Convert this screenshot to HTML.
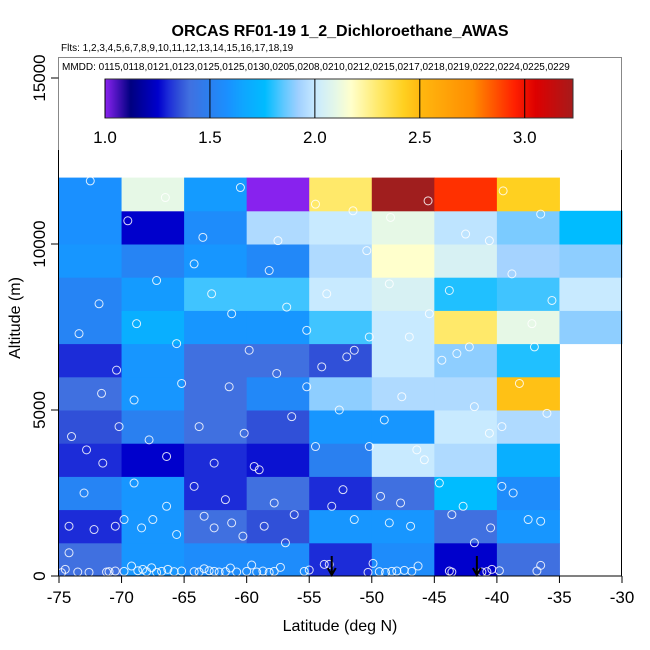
<!DOCTYPE html>
<html><head><meta charset="utf-8"><style>
body{margin:0;background:#fff;}
svg{display:block;font-family:"Liberation Sans",sans-serif;}
</style></head><body>
<svg id="chart" width="650" height="650" viewBox="0 0 650 650" xmlns="http://www.w3.org/2000/svg">
<rect width="650" height="650" fill="#fff"/>
<text x="340" y="36" text-anchor="middle" font-size="16" font-weight="bold">ORCAS RF01-19 1_2_Dichloroethane_AWAS</text>
<text x="61" y="51" font-size="10">Flts: 1,2,3,4,5,6,7,8,9,10,11,12,13,14,15,16,17,18,19</text>
<g id="cells"></g>
<g id="points"></g>
<g id="arrows"></g>
<rect x="58.5" y="57.5" width="563" height="518.5" fill="none" stroke="#000" stroke-width="1"/>
<g id="legend">
<rect x="58.5" y="57.5" width="563" height="92" fill="#fff" stroke="none"/>
<path d="M58.5,150 L58.5,57.5 L621.5,57.5 L621.5,150" fill="none" stroke="#888" stroke-width="1"/>
<text x="62" y="70" font-size="10">MMDD: 0115,0118,0121,0123,0125,0125,0130,0205,0208,0210,0212,0215,0217,0218,0219,0222,0224,0225,0229</text>
</g>
<g id="colorbar"></g>
<g id="axes"></g>
<text x="340" y="631" text-anchor="middle" font-size="16">Latitude (deg N)</text>
<text transform="translate(20,318) rotate(-90)" text-anchor="middle" font-size="16">Altitude (m)</text>
</svg>
<script>
const NS="http://www.w3.org/2000/svg";
// data
const latEdges=[-75,-70,-65,-60,-55,-50,-45,-40,-35,-30];
const altBins=[0,1000,2000,3000,4000,5000,6000,7000,8000,9000,10000,11000];
// values per altitude bin (bottom to top), per latitude column; null = empty
const row0=[1.40,1.60,1.56,1.56,1.30,1.56,1.25,1.40,null];
const row1=[1.30,1.60,1.40,1.35,1.60,1.60,1.40,1.60,null];
const row2=[1.52,1.60,1.30,1.40,1.30,1.40,1.76,1.56,null];
const row3=[1.30,1.25,1.30,1.27,1.50,2.00,1.95,1.70,null];
const row4=[1.35,1.50,1.40,1.35,1.60,1.60,2.00,1.95,null];
const row5=[1.40,1.60,1.40,1.54,1.90,1.95,1.95,2.47,null];
const row6=[1.30,1.60,1.40,1.40,1.35,2.00,1.90,1.79,null];
const row7=[1.52,1.70,1.60,1.60,1.82,2.00,2.30,2.10,1.90];
const row8=[1.52,1.62,1.82,1.82,2.00,2.05,1.79,1.82,2.00];
const row9=[1.60,1.52,1.60,1.54,1.95,2.17,2.05,1.93,1.90];
const row10=[1.58,1.25,1.56,1.95,2.00,2.10,1.98,1.88,1.76];
const row11=[1.58,2.10,1.62,1.00,2.30,3.25,2.92,2.42,null];
const cellRows=[row0,row1,row2,row3,row4,row5,row6,row7,row8,row9,row10,row11];
const xTicks=[-75,-70,-65,-60,-55,-50,-45,-40,-35,-30];
const yTicks=[0,5000,10000,15000];
const cbTicks=[1.0,1.5,2.0,2.5,3.0];
const cbMin=1.0, cbMax=3.23;
const ptLat=[-74.8,-74.5,-74.2,-73.5,-72.6,-71.2,-71,-70.5,-69.8,-69.2,-68.7,-68.3,-68,-67.6,-67.2,-66.8,-66.3,-65.8,-65.2,-64.2,-63.8,-63.4,-63,-62.6,-62.2,-61.7,-61.3,-60.8,-60,-59.6,-59.2,-58.7,-58.2,-57.8,-57.3,-55.4,-55,-53.8,-53.4,-50.3,-49.9,-49.4,-48.9,-48.4,-48,-47.4,-46.8,-46.3,-43.8,-43.6,-41.2,-40.8,-40.4,-39.8,-36.8,-36.5,
-74.2,-73,-72.2,-71.5,-70.5,-69.8,-69,-68.4,-67.5,-66.4,-65.6,-64.2,-63.4,-62.6,-61.7,-61.2,-60.3,-59.4,-58.6,-57.8,-56.9,-56.2,-54.5,-53.2,-52.3,-51.4,-50.2,-49.3,-48.6,-47.7,-46.9,-45.8,-44.6,-43.6,-42.7,-41.8,-40.5,-39.6,-38.7,-37.5,-36.5,
-74,-72.8,-71.6,-70.2,-69,-67.8,-66.4,-65.2,-63.8,-62.6,-61.4,-60.2,-59,-57.6,-56.4,-55.2,-54,-52.6,-51.4,-50.2,-49,-47.6,-46.4,-44.4,-43.2,-41.8,-40.6,-39.6,-38.2,-37,-36,
-73.4,-71.8,-70.4,-68.8,-67.2,-65.6,-64.2,-62.8,-61.2,-59.8,-58.2,-56.8,-55.2,-53.6,-52,-50.4,-48.6,-47,-45.4,-43.8,-42.2,-40.6,-38.8,-37.2,-35.6,
-72.5,-69.5,-66.5,-63.5,-60.5,-57.5,-54.5,-51.5,-48.5,-45.5,-42.5,-39.5,-36.5];
const ptAlt=[100,200,700,120,110,120,130,150,140,300,160,200,130,250,110,140,200,130,150,130,120,220,160,140,120,130,240,120,140,330,120,150,110,140,260,140,180,350,350,110,380,130,110,140,150,170,140,300,150,120,120,130,200,160,150,320,
1500,2500,1400,3400,1500,1700,2800,1450,1700,2100,1250,2700,1800,1450,2300,1600,1200,3300,1500,2200,1000,1850,3900,2100,2600,1700,3900,2400,1600,2200,1500,3500,2800,1850,2100,1000,1450,2700,2500,1700,1650,
4200,3800,5500,4500,5300,4100,3600,5800,4500,3400,5700,4300,3200,6100,4800,5700,6300,5000,6800,7200,4700,5400,3800,6500,6700,5100,4300,4500,5800,6900,4900,
7300,8200,6200,7600,8900,7000,9400,8500,7900,6800,9200,8100,7400,8500,6600,9800,8800,7200,7900,8600,6900,10100,9100,7600,8300,
11900,10700,11400,10200,11700,10100,11200,11000,10800,11300,10300,11600,10900];
const arrowLat=[-53.2,-41.6];
// scales
const X0=59,X1=622,Y0=576,PXM=0.0332;
function xs(v){return X0+(v+75)*(X1-X0)/45;}
function ys(a){return Y0-a*PXM;}
const stops=[[1.00,"#8822ee"],[1.12,"#000080"],[1.25,"#0000cc"],[1.30,"#1c2cd8"],[1.35,"#3050d8"],[1.40,"#4070e0"],[1.50,"#2a80f0"],[1.58,"#1a90ff"],[1.65,"#10a4ff"],[1.76,"#00bcff"],[1.85,"#60c8ff"],[1.92,"#a0d0ff"],[2.0,"#c8eaff"],[2.1,"#e6f8e6"],[2.17,"#ffffcc"],[2.3,"#ffe96a"],[2.42,"#ffd020"],[2.5,"#ffb80f"],[2.75,"#ff8c00"],[2.95,"#ff2000"],[3.05,"#dd0000"],[3.25,"#a01e1e"]];
function hex(h){return [1,3,5].map(i=>parseInt(h.substr(i,2),16));}
function cmap(v){
  if(v<=stops[0][0])return stops[0][1];
  for(let i=1;i<stops.length;i++){if(v<=stops[i][0]){const a=stops[i-1],b=stops[i];const t=(v-a[0])/(b[0]-a[0]);const ca=hex(a[1]),cb=hex(b[1]);return "rgb("+ca.map((c,k)=>Math.round(c+(cb[k]-c)*t)).join(",")+")";}}
  return stops[stops.length-1][1];
}
function mk(tag,attrs,parent){const e=document.createElementNS(NS,tag);for(const k in attrs)e.setAttribute(k,attrs[k]);parent.appendChild(e);return e;}
// cells
const gC=document.getElementById("cells");
cellRows.forEach((row,r)=>{row.forEach((v,c)=>{if(v===null)return;
  const x=xs(latEdges[c]),x2=xs(latEdges[c+1]),y=ys(altBins[r]+1000),y2=ys(altBins[r]);
  const e=mk("rect",{x:x,y:y,width:x2-x+0.5,height:y2-y+0.5,fill:cmap(v)},gC);
  
  
});});
// points
const gP=document.getElementById("points");
ptLat.forEach((la,i)=>{
  const e=mk("circle",{cx:xs(la),cy:ys(ptAlt[i]),r:4,fill:"none",stroke:"#fff","stroke-width":1,"stroke-opacity":0.85},gP);
  
  
});
// arrows
const gA=document.getElementById("arrows");
arrowLat.forEach(la=>{
  const x=xs(la);
  const e=mk("path",{d:`M${x},556 L${x},575 M${x-4},568 L${x},575 L${x+4},568`,stroke:"#000","stroke-width":2,fill:"none"},gA);
  
  
});
// colorbar
const gB=document.getElementById("colorbar");
const CB0=105,CB1=573,CBT=79,CBB=118;
function cbx(v){return CB0+(v-cbMin)*(CB1-CB0)/(cbMax-cbMin);}
for(let px=CB0;px<CB1;px++){const v=cbMin+(px-CB0)*(cbMax-cbMin)/(CB1-CB0);mk("rect",{x:px,y:CBT,width:1.2,height:CBB-CBT,fill:cmap(v)},gB);}
mk("rect",{x:CB0,y:CBT,width:CB1-CB0,height:CBB-CBT,fill:"none",stroke:"#333","stroke-width":1},gB);
cbTicks.forEach(t=>{const x=cbx(t);
  mk("line",{x1:x,x2:x,y1:CBT,y2:CBB,stroke:"#000","stroke-width":1},gB);
  const e=mk("text",{x:x,y:143,"text-anchor":"middle","font-size":17},gB);e.textContent=t.toFixed(1);
  
  
});
// axes
const gX=document.getElementById("axes");
xTicks.forEach(t=>{const x=xs(t);
  mk("line",{x1:x,x2:x,y1:576,y2:583,stroke:"#000"},gX);
  const e=mk("text",{x:x,y:603,"text-anchor":"middle","font-size":17},gX);e.textContent=t;
  
  
});
yTicks.forEach(t=>{const y=ys(t);
  mk("line",{x1:51,x2:58.5,y1:y,y2:y,stroke:"#000"},gX);
  const e=mk("text",{"text-anchor":"middle","font-size":17,transform:`translate(45,${y}) rotate(-90)`},gX);e.textContent=t;
  
  
});
</script>
</body></html>
